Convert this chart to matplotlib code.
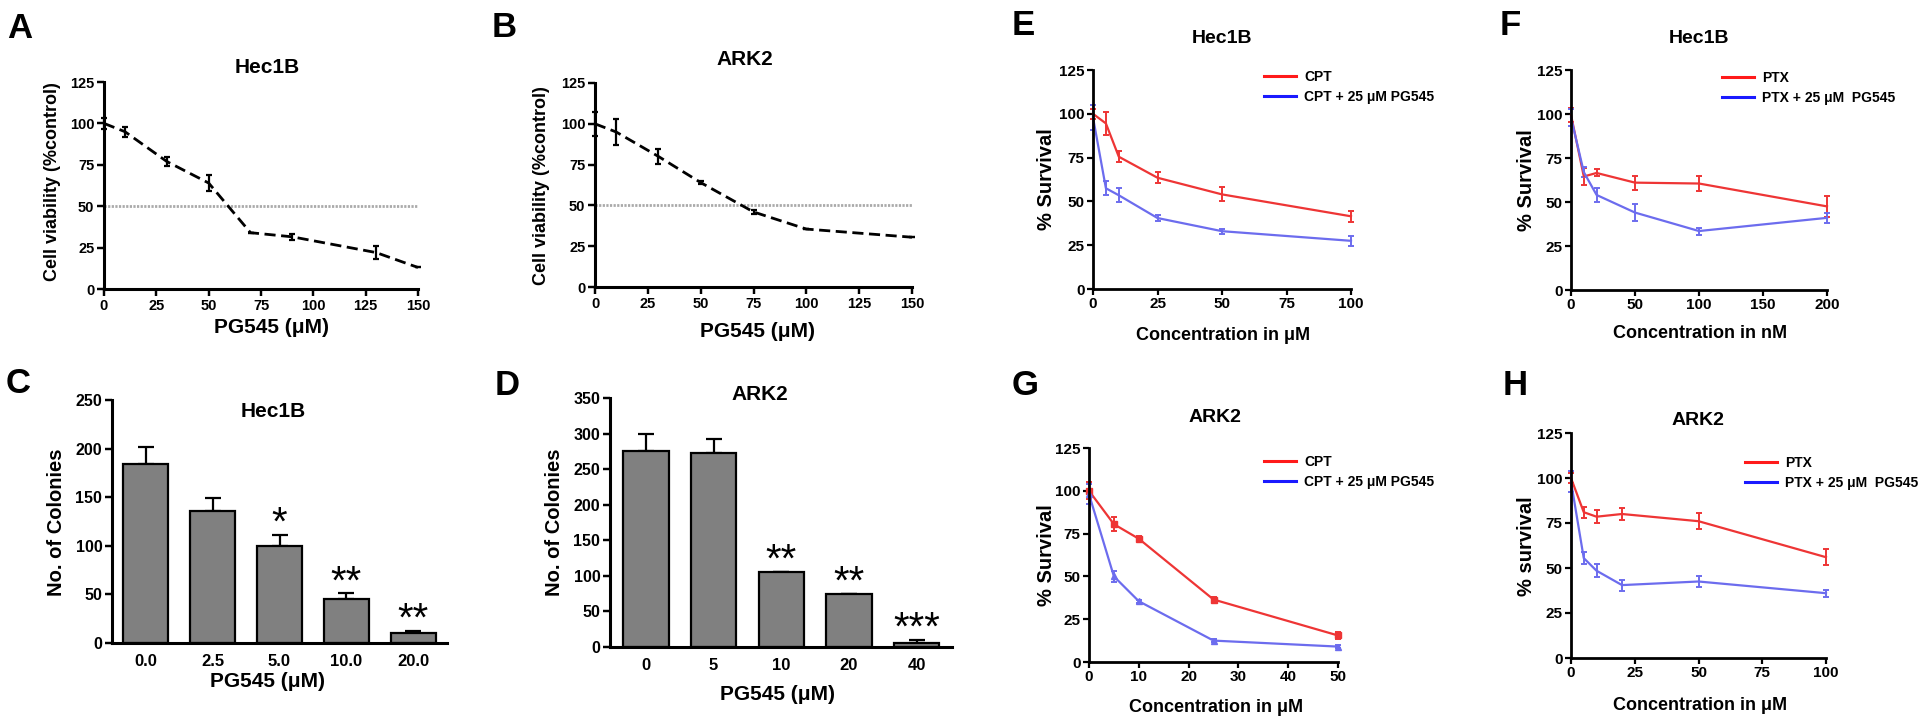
import matplotlib
matplotlib.use("Agg")
import matplotlib.pyplot as plt
from matplotlib import font_manager
from matplotlib.lines import Line2D

# ---- data ----
dose_a = [0, 10, 30, 50, 70, 90, 130, 150]
via_a = [100, 95, 77, 64, 34, 31.5, 22, 13]
via_a_err = [3.5, 3, 2.5, 5, 0, 2, 4, 0]

dose_b = [0, 10, 30, 50, 75, 100, 150]
via_b = [100, 95, 80, 64, 46, 35.5, 30.5]
via_b_err = [7.5, 8, 4.5, 1, 1, 0, 0]

dose_c = ['0.0', '2.5', '5.0', '10.0', '20.0']
col_c = [184, 136, 100, 45, 10]
col_c_err = [18, 13, 11, 6, 2.5]
stars_c = ['', '', '*', '**', '**']

dose_d = ['0', '5', '10', '20', '40']
col_d = [276, 272, 105, 74, 6]
col_d_err = [24, 21, 1, 1, 4]
stars_d = ['', '', '**', '**', '***']

conc_e = [0, 5, 10, 25, 50, 100]
cpt_e = [100, 94.5, 75.5, 63.5, 54, 41.5]
cpt_e_err = [3, 6.5, 3, 3, 4, 3]
cpt_pg_e = [98, 57.5, 53.5, 40.5, 33, 27.5]
cpt_pg_e_err = [7, 4, 4, 1.5, 1.5, 3]

conc_f = [0, 10, 20, 50, 100, 200]
ptx_f = [99.5, 64.5, 66.5, 61, 60.5, 47.5]
ptx_f_err = [4, 5, 2, 4, 4, 6]
ptx_pg_f = [98, 67, 54, 44, 33.5, 41]
ptx_pg_f_err = [5, 3, 4, 5, 2, 3]

conc_g = [0, 5, 10, 25, 50]
cpt_g = [100, 80.5, 72, 36.5, 15.5]
cpt_g_err = [5, 4, 1.5, 1.5, 2]
cpt_pg_g = [98, 50, 35.5, 12.5, 9]
cpt_pg_g_err = [6, 3, 1, 1, 1]

conc_h = [0, 5, 10, 20, 50, 100]
ptx_h = [100, 81, 78.5, 80, 76, 56]
ptx_h_err = [3, 3, 3.5, 3.5, 4.5, 4.5]
ptx_pg_h = [98, 55.5, 48.5, 40.5, 42.5, 36]
ptx_pg_h_err = [6, 3.5, 3.5, 3, 3, 2]

# ---- fonts ----
names = {f.name for f in font_manager.fontManager.ttflist}
SANS = 'Liberation Sans'
NARROW = 'Liberation Sans Narrow' if 'Liberation Sans Narrow' in names else SANS
plt.rcParams['font.family'] = [SANS, 'DejaVu Sans']
plt.rcParams['font.weight'] = 'bold'

W, H = 1920, 721
fig = plt.figure(figsize=(W / 100, H / 100), dpi=100)

RED = '#ee3535'
BLUE = '#6c6cee'


def axbox(x0, y0, x1, y1):
    return fig.add_axes([x0 / W, 1 - y1 / H, (x1 - x0) / W, (y1 - y0) / H])


def ftext(x, y, s, **kw):
    fig.text(x / W, 1 - y / H, s, **kw)


def style(ax, lw, fs, family, tl=5):
    for s in ['top', 'right']:
        ax.spines[s].set_visible(False)
    for s in ['left', 'bottom']:
        ax.spines[s].set_linewidth(lw)
    ax.tick_params(width=lw * 0.8, length=tl, labelsize=fs, pad=2)
    for lab in ax.get_xticklabels() + ax.get_yticklabels():
        lab.set_fontweight('bold')
        lab.set_family(family)


# ---- A / B : viability curves ----
def viability(box, x, y, err):
    ax = axbox(*box)
    ax.errorbar(x, y, yerr=err, color='black', lw=2, ls=(0, (4, 2)), capsize=2.5,
                elinewidth=1.6, capthick=1.6, clip_on=False)
    ax.plot([0, 150], [50, 50], color='#aaaaaa', lw=2, ls=(0, (0.8, 0.5)), zorder=0)
    ax.set_xlim(0, 150)
    ax.set_ylim(0, 125)
    ax.set_xticks(range(0, 151, 25))
    ax.set_yticks(range(0, 126, 25))
    style(ax, 2.2, 10.5, SANS)
    return ax


viability((104, 82, 418, 289), dose_a, via_a, via_a_err)
viability((595, 83, 912, 287), dose_b, via_b, via_b_err)


# ---- C / D : colony bars ----
def colonies(box, labels, vals, errs, stars, ymax, xlim):
    ax = axbox(*box)
    pos = range(len(vals))
    ax.bar(pos, vals, width=0.67, color='#808080', edgecolor='black', linewidth=1.6, zorder=2)
    ax.errorbar(pos, vals, yerr=[[0] * len(errs), errs], fmt='none', ecolor='black',
                elinewidth=1.6, capsize=6, capthick=1.6, zorder=1)
    for p, v, e, s in zip(pos, vals, errs, stars):
        if s:
            ax.text(p, v + e, s, ha='center', va='baseline', fontsize=29,
                    fontweight='normal', family=SANS)
    ax.set_xlim(*xlim)
    ax.set_ylim(0, ymax)
    ax.set_xticks(list(pos))
    ax.set_xticklabels(labels)
    ax.set_yticks(range(0, ymax + 1, 50))
    style(ax, 2.2, 11.5, SANS)
    ax.tick_params(axis='x', length=0, pad=8, labelsize=12)
    return ax


colonies((112, 400, 447, 643), dose_c, col_c, col_c_err, stars_c, 250, (-0.5, 4.5))
colonies((610, 398, 952, 647), dose_d, col_d, col_d_err, stars_d, 350, (-0.53, 4.52))


# ---- E-H : survival curves ----
def survival(box, x, y1, e1, y2, e2, xmax, xstep, labels, legend_xy, m1='', m2=''):
    ax = axbox(*box)
    ax.errorbar(x, y1, yerr=e1, color=RED, lw=1.6, capsize=2.5, elinewidth=1.4,
                capthick=1.4, marker=m1, ms=5, clip_on=False)
    ax.errorbar(x, y2, yerr=e2, color=BLUE, lw=1.6, capsize=2.5, elinewidth=1.4,
                capthick=1.4, marker=m2, ms=5, clip_on=False)
    ax.set_xlim(0, xmax)
    ax.set_ylim(0, 125)
    ax.set_xticks(range(0, xmax + 1, xstep))
    ax.set_yticks(range(0, 126, 25))
    style(ax, 2.0, 11, NARROW, tl=4)
    handles = [Line2D([], [], color='#ff1a1a', lw=2.2), Line2D([], [], color='#1a1aff', lw=2.2)]
    ax.legend(handles, labels, loc='upper left', bbox_to_anchor=(legend_xy[0] / W, 1 - legend_xy[1] / H),
              bbox_transform=fig.transFigure, frameon=False, handlelength=2.3,
              handletextpad=0.6, labelspacing=0.45, borderpad=0, borderaxespad=0,
              prop={'family': SANS, 'weight': 'bold', 'size': 10})
    return ax


cpt_labels = ['CPT', 'CPT + 25 μM PG545']
ptx_labels = ['PTX', 'PTX + 25 μM  PG545']
survival((1093, 70, 1351, 289), conc_e, cpt_e, cpt_e_err, cpt_pg_e, cpt_pg_e_err,
         100, 25, cpt_labels, (1264, 70))
survival((1571, 70, 1827, 290), conc_f, ptx_f, ptx_f_err, ptx_pg_f, ptx_pg_f_err,
         200, 50, ptx_labels, (1722, 71))
survival((1089, 448, 1338, 662), conc_g, cpt_g, cpt_g_err, cpt_pg_g, cpt_pg_g_err,
         50, 10, cpt_labels, (1264, 455), m1='s', m2='^')
survival((1571, 433, 1826, 658), conc_h, ptx_h, ptx_h_err, ptx_pg_h, ptx_pg_h_err,
         100, 25, ptx_labels, (1745, 456))

# ---- titles, axis labels, panel letters ----
big = dict(family=SANS, fontweight='bold')
nar = dict(family=NARROW, fontweight='bold')

for x, y, s in [(267, 73, 'Hec1B'), (745, 65, 'ARK2'), (273, 417, 'Hec1B'), (760, 400, 'ARK2')]:
    ftext(x, y, s, ha='center', va='baseline', fontsize=15, **big)
for x, y, s in [(1222, 43, 'Hec1B'), (1699, 43, 'Hec1B'), (1215, 422, 'ARK2'), (1698, 425, 'ARK2')]:
    ftext(x, y, s, ha='center', va='baseline', fontsize=14, **nar)

for x, y in [(272, 333), (757, 337), (267, 687), (778, 700)]:
    ftext(x, y, 'PG545 (μM)', ha='center', va='baseline', fontsize=15, **big)
for x, y, s in [(1223, 340, 'Concentration in μM'), (1700, 338, 'Concentration in nM'),
                (1216, 712, 'Concentration in μM'), (1700, 710, 'Concentration in μM')]:
    ftext(x, y, s, ha='center', va='baseline', fontsize=13, **nar)

for x, y in [(53, 182), (542, 186)]:
    ftext(x, y, 'Cell viability (%control)', ha='center', va='center', rotation=90, fontsize=13, **big)
for x, y in [(57, 522), (555, 522)]:
    ftext(x, y, 'No. of Colonies', ha='center', va='center', rotation=90, fontsize=14.5, **big)
for x, y, s in [(1047, 179, '% Survival'), (1527, 180, '% Survival'),
                (1046, 555, '% Survival'), (1526, 546, '% survival')]:
    ftext(x, y, s, ha='center', va='center', rotation=90, fontsize=14.5, **big)

for x, y, s in [(7, 38, 'A'), (492, 37, 'B'), (6, 393, 'C'), (495, 395, 'D'),
                (1012, 35, 'E'), (1500, 35, 'F'), (1012, 395, 'G'), (1503, 395, 'H')]:
    ftext(x, y, s, ha='left', va='baseline', fontsize=25, **big)

fig.savefig('out.png', dpi=100)
